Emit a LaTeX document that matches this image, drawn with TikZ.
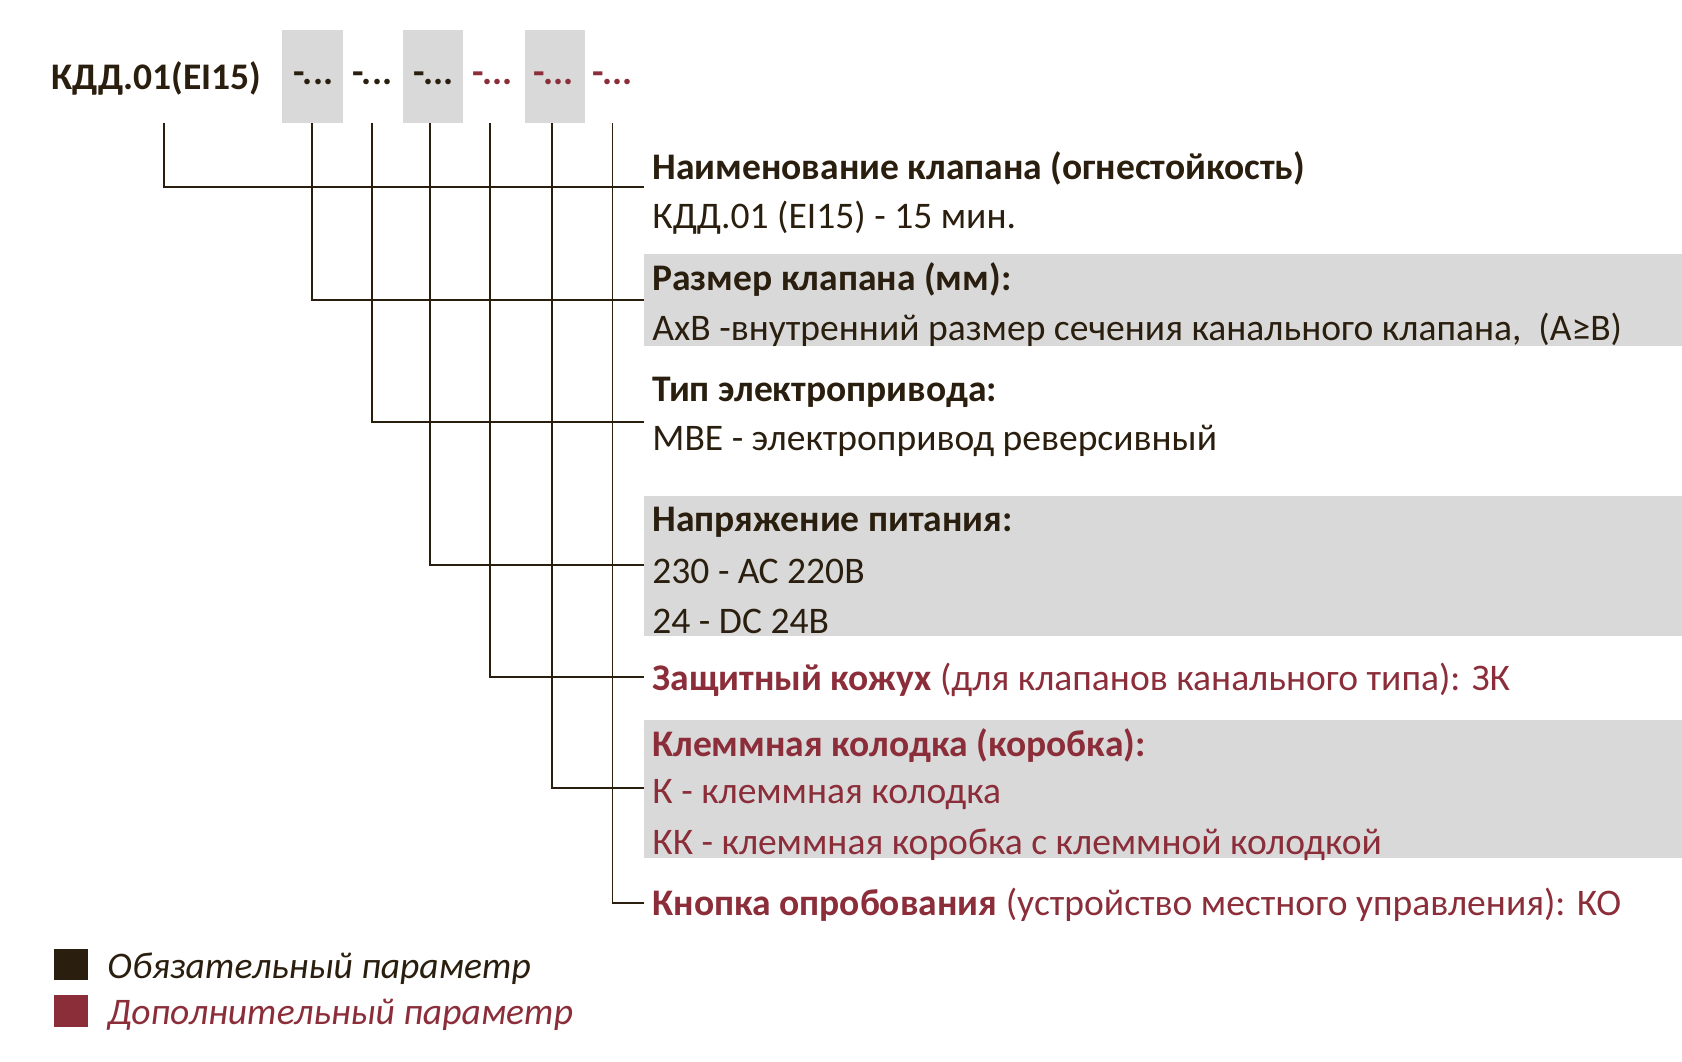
\documentclass[tikz,border=0pt]{standalone}
\usepackage{fontspec}
\setmainfont{Carlito}
\definecolor{dk}{HTML}{2A1E0E}
\definecolor{rd}{HTML}{8B2E3A}
\definecolor{gb}{HTML}{D9D9D9}
\begin{document}
\begin{tikzpicture}[x=1pt,y=-1pt,
 t/.style={anchor=west,inner sep=0pt,font=\fontsize{35}{38}\selectfont,text=dk},
 tb/.style={t,font=\fontsize{35}{38}\selectfont\bfseries},
 ln/.style={draw=dk,line width=1.8pt},
 cd/.style={inner sep=0pt,font=\fontsize{35}{38}\selectfont\bfseries}]
\useasboundingbox (0,0) rectangle (1568,990);
\fill[gb] (263,28) rectangle (320,115);
\fill[gb] (376,28) rectangle (432,115);
\fill[gb] (489,28) rectangle (545,115);
\fill[gb] (600,237) rectangle (1568,323);
\fill[gb] (600,462) rectangle (1568,593);
\fill[gb] (600,671) rectangle (1568,800);
\node[tb] (h) at (48,73) {КДД.01(EI15)};
\node[cd,text=dk] (c1) at (292,73) {-...};
\node[cd,text=dk] (c2) at (347,73) {-...};
\node[cd,text=dk] (c3) at (404,73) {-...};
\node[cd,text=rd] (c4) at (459,73) {-...};
\node[cd,text=rd] (c5) at (516,73) {-...};
\node[cd,text=rd] (c6) at (571,73) {-...};
\coordinate (e0) at (600,174);\coordinate (e1) at (600,280);
\coordinate (e2) at (600,393);\coordinate (e3) at (600,527);
\coordinate (e4) at (600,631);\coordinate (e5) at (600,735);
\coordinate (e6) at (600,842);
\draw[ln] (153,115) |- (e0);
\draw[ln] (291,115) |- (e1);
\draw[ln] (347,115) |- (e2);
\draw[ln] (401,115) |- (e3);
\draw[ln] (457,115) |- (e4);
\draw[ln] (515,115) |- (e5);
\draw[ln] (571,115) |- (e6);
\node[tb] (a1) at (608,157) {Наименование клапана (огнестойкость)};
\node[t] (a2) at (608,203) {КДД.01 (EI15) - 15 мин.};
\node[tb] (b1) at (608,261) {Размер клапана (мм):};
\node[t] (b2) at (608,307) {АхВ -внутренний размер сечения канального клапана,\ \ (А≥В)};
\node[tb] (c1t) at (608,366) {Тип электропривода:};
\node[t] (c2t) at (608,411) {МВЕ - электропривод реверсивный};
\node[tb] (d1) at (608,487) {Напряжение питания:};
\node[t] (d2) at (608,533) {230 - АС 220В};
\node[t] (d3) at (608,579) {24 - DC 24В};
\node[t,text=rd] (f1) at (608,634) {\textbf{Защитный кожух} (для клапанов канального типа): ЗК};
\node[tb,text=rd] (g1) at (608,695) {Клеммная колодка (коробка):};
\node[t,text=rd] (g2) at (608,741) {К - клеммная колодка};
\node[t,text=rd] (g3) at (608,788) {КК - клеммная коробка с клеммной колодкой};
\node[t,text=rd] (k1) at (608,843) {\textbf{Кнопка опробования} (устройство местного управления): КО};
\fill[dk] (50,885) rectangle (82,914);
\fill[rd] (50,928) rectangle (82,957);
\node[t,font=\fontsize{35}{38}\selectfont\itshape] (l1) at (100,903) {Обязательный параметр};
\node[t,text=rd,font=\fontsize{35}{38}\selectfont\itshape] (l2) at (100,946) {Дополнительный параметр};
\end{tikzpicture}
\end{document}
